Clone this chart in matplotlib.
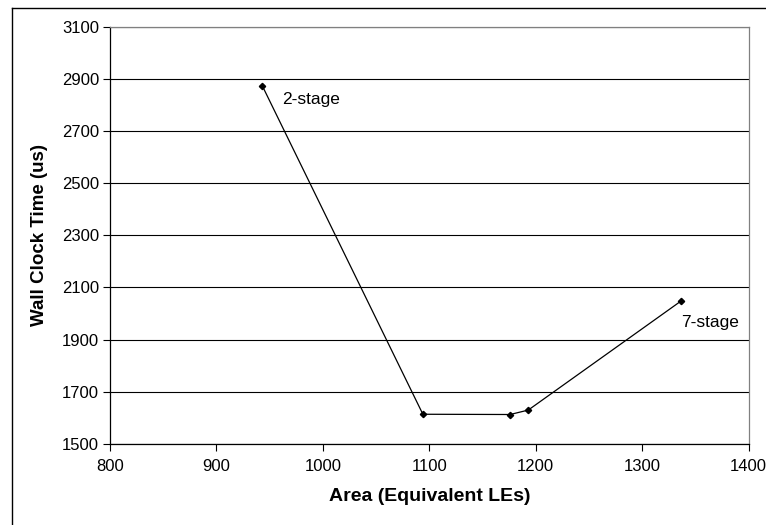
import matplotlib
matplotlib.use("Agg")
import matplotlib.pyplot as plt
from matplotlib.lines import Line2D

plt.rcParams['font.family'] = ['Liberation Sans', 'DejaVu Sans']

area = [943, 1094, 1176, 1193, 1337]
wall_time = [2875, 1613, 1612, 1629, 2049]
x_ticks = [800, 900, 1000, 1100, 1200, 1300, 1400]
y_ticks = [1500, 1700, 1900, 2100, 2300, 2500, 2700, 2900, 3100]
labels = [(0, "2-stage"), (4, "7-stage")]

fig = plt.figure(figsize=(7.66, 5.25), dpi=100)
ax = fig.add_axes([0.1436, 0.1549, 0.9772 - 0.1436, 0.9486 - 0.1549])

ax.plot(area, wall_time, color='black', lw=0.9, marker='D', markersize=3.2,
        markerfacecolor='black', markeredgecolor='black', zorder=3)

ax.set_xlim(800, 1400)
ax.set_ylim(1500, 3100)
ax.set_xticks(x_ticks)
ax.set_yticks(y_ticks)
ax.yaxis.grid(True, color='black', lw=0.8)
ax.set_axisbelow(True)
ax.tick_params(direction='out', length=5, width=0.8, labelsize=12)
ax.tick_params(axis='x', pad=6)
ax.tick_params(axis='y', pad=3)

for s in ['left', 'bottom']:
    ax.spines[s].set_color('black')
    ax.spines[s].set_linewidth(0.9)
for s in ['top', 'right']:
    ax.spines[s].set_color('#808080')
    ax.spines[s].set_linewidth(0.9)

ax.set_xlabel('Area (Equivalent LEs)', fontsize=14, fontweight='bold', labelpad=10)
ax.set_ylabel('Wall Clock Time (us)', fontsize=13.5, fontweight='bold', labelpad=10)

i0, t0 = labels[0]
ax.annotate(t0, (area[i0], wall_time[i0]), xytext=(14, -10), textcoords='offset points',
            fontsize=12.5, va='center', ha='left')
i1, t1 = labels[1]
ax.annotate(t1, (area[i1], wall_time[i1]), xytext=(0, -15.5), textcoords='offset points',
            fontsize=12.5, va='center', ha='left')

# outer chart border (left and top edges visible)
fig.add_artist(Line2D([11.5 / 766, 11.5 / 766], [0, 1 - 7.5 / 525], transform=fig.transFigure,
                      color='black', lw=1.0))
fig.add_artist(Line2D([11.5 / 766, 1], [1 - 7.5 / 525, 1 - 7.5 / 525], transform=fig.transFigure,
                      color='black', lw=1.0))

fig.savefig('out.png', dpi=100)
